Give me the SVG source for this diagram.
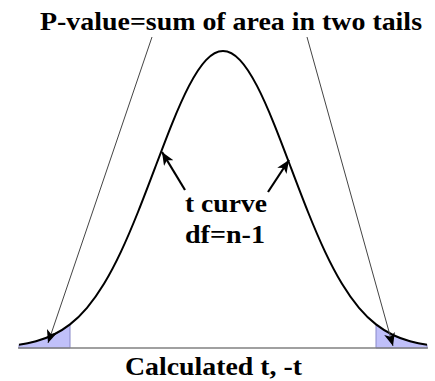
<svg xmlns="http://www.w3.org/2000/svg" width="435" height="381" viewBox="0 0 435 381">
<style>
.lbl{font-family:'Liberation Serif','Times New Roman','DejaVu Serif',Times,serif;font-weight:700;font-size:25.5px;fill:#000}
.curve{fill:none;stroke:#000;stroke-width:2}
.shade{fill:#c0c0fa;stroke:#8888c8;stroke-width:1}
.axis{stroke:#808080;stroke-width:1.6}
.thin{stroke:#444;stroke-width:1;fill:none}
.thick{stroke:#000;stroke-width:2.2;fill:none}
</style>
<defs>
<marker id="ah" markerUnits="userSpaceOnUse" markerWidth="16" markerHeight="14" refX="13" refY="5.5" orient="auto">
<path d="M0,0 L13,5.5 L0,11 L3.5,5.5 Z" fill="#000"/>
</marker>
</defs>
<rect width="435" height="381" fill="#fff"/>
<g id="tails">
<path class="shade" d="M19,344.7 C24.67,343.88 30.33,342.75 36,341.2 C41.67,339.65 47.33,337.72 53,335.0 C58.67,332.28 64.33,328.83 70,324.4 L70,348 L19,348 Z"/>
<path class="shade" d="M376,324.4 C381.67,328.83 387.33,332.28 393,335.0 C398.67,337.72 404.33,339.65 410,341.2 C415.67,342.75 421.33,343.88 427,344.7 L427,348 L376,348 Z"/>
</g>
<g id="axis">
<line class="axis" x1="18" y1="348" x2="428" y2="348"/>
</g>
<g id="tcurve">
<path class="curve" d="M19,344.7 C24.67,343.88 30.33,342.75 36,341.2 C41.67,339.65 47.33,337.72 53,335.0 C58.67,332.28 64.33,328.83 70,324.4 C75.67,319.97 81.33,314.5 87,307.8 C92.67,301.1 98.33,293.17 104,283.8 C109.67,274.43 115.33,263.65 121,251.6 C126.67,239.55 132.33,226.16 138,212.0 C143.67,197.84 149.33,182.91 155,167.9 C160.67,152.89 166.33,137.81 172,123.8 C177.67,109.79 183.33,96.82 189,85.9 C194.67,74.98 200.33,66.1 206,60.1 C211.67,54.1 217.33,51 223,51 C228.67,51 234.33,54.1 240,60.1 C245.67,66.1 251.33,74.98 257,85.9 C262.67,96.82 268.33,109.79 274,123.8 C279.67,137.81 285.33,152.89 291,167.9 C296.67,182.91 302.33,197.84 308,212.0 C313.67,226.16 319.33,239.55 325,251.6 C330.67,263.65 336.33,274.43 342,283.8 C347.67,293.17 353.33,301.1 359,307.8 C364.67,314.5 370.33,319.97 376,324.4 C381.67,328.83 387.33,332.28 393,335.0 C398.67,337.72 404.33,339.65 410,341.2 C415.67,342.75 421.33,343.88 427,344.7"/>
</g>
<g id="title">
<text class="lbl" font-family="Liberation Serif, DejaVu Serif, serif" x="40" y="30" textLength="382" lengthAdjust="spacingAndGlyphs">P-value=sum of area in two tails</text>
</g>
<g id="curve-label">
<text class="lbl" font-family="Liberation Serif, DejaVu Serif, serif" x="185" y="212" textLength="82" lengthAdjust="spacingAndGlyphs">t curve</text>
<text class="lbl" font-family="Liberation Serif, DejaVu Serif, serif" x="185" y="243" textLength="80" lengthAdjust="spacingAndGlyphs">df=n-1</text>
</g>
<g id="bottom-label">
<text class="lbl" font-family="Liberation Serif, DejaVu Serif, serif" x="125" y="375" textLength="177" lengthAdjust="spacingAndGlyphs">Calculated t, -t</text>
</g>
<g id="connectors">
<line class="thin" x1="152" y1="37" x2="48" y2="343" marker-end="url(#ah)"/>
<line class="thin" x1="307" y1="37" x2="393" y2="346" marker-end="url(#ah)"/>
<line class="thick" x1="185" y1="190" x2="162" y2="152" marker-end="url(#ah)"/>
<line class="thick" x1="268" y1="192" x2="289" y2="160" marker-end="url(#ah)"/>
</g>
</svg>
